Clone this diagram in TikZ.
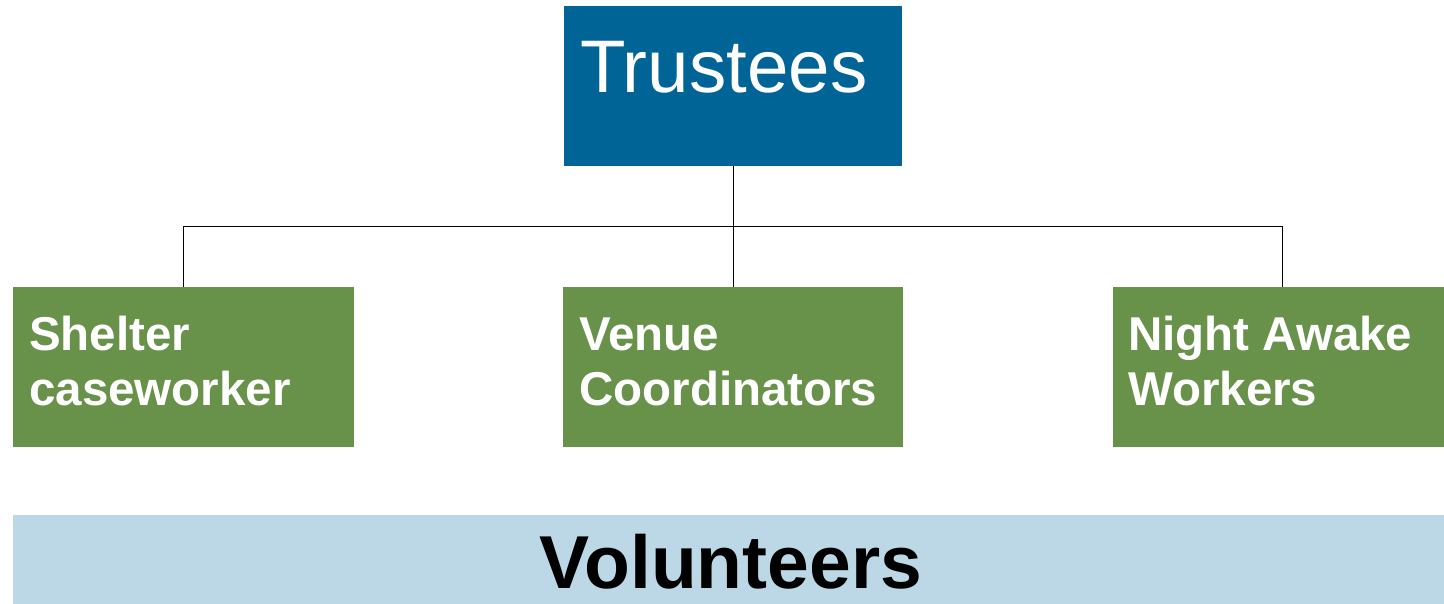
\documentclass[tikz,border=0pt]{standalone}
\usepackage{fontspec}
\setmainfont{Liberation Sans}
\definecolor{trustblue}{RGB}{0,100,150}
\definecolor{rolegreen}{RGB}{104,145,74}
\definecolor{volblue}{RGB}{188,215,229}
\begin{document}
\begin{tikzpicture}[x=1pt,y=-1pt,
  topbox/.style={fill=trustblue,draw=none,inner sep=0pt,minimum width=338pt,minimum height=160pt,anchor=north west},
  rolebox/.style={fill=rolegreen,draw=none,inner sep=0pt,minimum width=341pt,minimum height=160pt,anchor=north west},
  rolelabel/.style={anchor=base west,inner sep=0pt,align=left,text=white,font=\fontsize{47.5}{55}\selectfont\bfseries},
  link/.style={draw=black,line width=1pt}]
\useasboundingbox (0,0) rectangle (1444,604);
\node[topbox] (trust) at (564,6) {};
\node[anchor=base west,inner sep=0pt,text=white,font=\fontsize{74.5}{80}\selectfont] (trustlbl) at (580,93) {Trustees};
\node[rolebox] (shelter) at (13,287) {};
\node[rolebox,minimum width=340pt] (venue) at (563,287) {};
\node[rolebox,minimum width=339pt] (night) at (1113,287) {};
\node[rolelabel] (shelterlbl) at (29,405) {Shelter\\caseworker};
\node[rolelabel] (venuelbl) at (579,405) {Venue\\Coordinators};
\node[rolelabel] (nightlbl) at (1128,405) {Night Awake\\Workers};
\node[fill=volblue,inner sep=0pt,minimum width=1431pt,minimum height=89pt,anchor=north west] (vol) at (13,515) {};
\node[anchor=base,inner sep=0pt,text=black,font=\fontsize{75}{80}\selectfont\bfseries] (vollbl) at (731,588) {Volunteers};
\coordinate (hub) at (733,227);
\draw[link] (trust.south -| hub) -- (hub);
\draw[link] (shelter.north) |- (hub);
\draw[link] (night.north) |- (hub);
\draw[link] (hub) -- (hub |- venue.north);
\end{tikzpicture}
\end{document}
